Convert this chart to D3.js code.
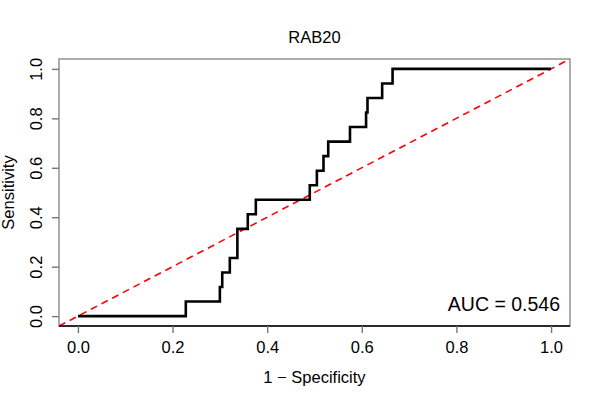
<!DOCTYPE html>
<html>
<head>
<meta charset="utf-8">
<script src="https://cdn.jsdelivr.net/npm/d3@7"></script>
<style>
  body { margin: 0; background: #fff; }
  text { font-family: "Liberation Sans", Arial, Helvetica, sans-serif; fill: #000; }
</style>
</head>
<body>
<div id="chart"></div>
<script>
// ROC curve points for RAB20 (17 positives)
var fpr = [0, 0.228, 0.228, 0.300, 0.300, 0.305, 0.305, 0.321, 0.321, 0.337, 0.337,
           0.359, 0.359, 0.376, 0.376, 0.490, 0.490, 0.505, 0.505, 0.519, 0.519,
           0.529, 0.529, 0.575, 0.575, 0.609, 0.609, 0.612, 0.612, 0.643, 0.643,
           0.665, 0.665, 1];
var tpr = [0, 0, 1, 1, 2, 2, 3, 3, 4, 4, 6,
           6, 7, 7, 8, 8, 9, 9, 10, 10, 11,
           11, 12, 12, 13, 13, 14, 14, 15, 15, 16,
           16, 17, 17].map(function (d) { return d / 17; });
var ticks = [0, 0.2, 0.4, 0.6, 0.8, 1.0];
var title = "RAB20";
var aucLabel = "AUC = 0.546";

var width = 600, height = 400;
var box = {left: 59, right: 570, top: 59, bottom: 326};
var fs = "16.5px";

var svg = d3.select("#chart").append("svg")
    .attr("width", width)
    .attr("height", height);

// R style axes: 4% padding on each side
var x = d3.scaleLinear().domain([-0.04, 1.04]).range([box.left, box.right]);
var y = d3.scaleLinear().domain([-0.04, 1.04]).range([box.bottom, box.top]);

// diagonal reference line, clipped to the plot box
svg.append("line")
    .attr("x1", x(-0.04)).attr("y1", y(-0.04))
    .attr("x2", x(1.04)).attr("y2", y(1.04))
    .attr("stroke", "#ff0000")
    .attr("stroke-width", 1.6)
    .attr("stroke-dasharray", "7,5");

var pts = fpr.map(function (d, i) { return [d, tpr[i]]; });
var line = d3.line()
    .x(function (d) { return x(d[0]); })
    .y(function (d) { return y(d[1]); });

svg.append("path")
    .datum(pts)
    .attr("d", line)
    .attr("fill", "none")
    .attr("stroke", "#000")
    .attr("stroke-width", 2.6)
    .attr("stroke-linejoin", "miter");

// box
svg.append("rect")
    .attr("x", box.left).attr("y", box.top)
    .attr("width", box.right - box.left)
    .attr("height", box.bottom - box.top)
    .attr("fill", "none")
    .attr("stroke", "#8a8a8a")
    .attr("stroke-width", 1.4);
svg.append("line")
    .attr("x1", box.left).attr("x2", box.right)
    .attr("y1", box.bottom).attr("y2", box.bottom)
    .attr("stroke", "#000")
    .attr("stroke-width", 1.4);

// axes
var xAxis = svg.append("g")
    .attr("transform", "translate(0," + box.bottom + ")")
    .call(d3.axisBottom(x).tickValues(ticks).tickFormat(d3.format(".1f")).tickSize(7).tickSizeOuter(0));
xAxis.select(".domain").remove();
xAxis.selectAll("line").attr("stroke", "#777").attr("stroke-width", 1.4);
xAxis.selectAll("text")
    .attr("y", 27).attr("dy", null)
    .style("font-size", fs)
    .style("font-family", "'Liberation Sans', Arial, sans-serif")
    .attr("fill", "#000");

var yAxis = svg.append("g")
    .attr("transform", "translate(" + box.left + ",0)")
    .call(d3.axisLeft(y).tickValues(ticks).tickFormat(d3.format(".1f")).tickSize(7).tickSizeOuter(0));
yAxis.select(".domain").remove();
yAxis.selectAll("line").attr("stroke", "#777").attr("stroke-width", 1.4);
yAxis.selectAll("text")
    .attr("x", null).attr("dy", null)
    .attr("text-anchor", "middle")
    .attr("transform", "translate(-17,0) rotate(-90)")
    .style("font-size", fs)
    .style("font-family", "'Liberation Sans', Arial, sans-serif")
    .attr("fill", "#000");

// titles
svg.append("text")
    .attr("x", (box.left + box.right) / 2).attr("y", 43)
    .attr("text-anchor", "middle")
    .style("font-size", fs)
    .text(title);

svg.append("text")
    .attr("x", (box.left + box.right) / 2).attr("y", 383)
    .attr("text-anchor", "middle")
    .style("font-size", fs)
    .text("1 \u2212 Specificity");

svg.append("text")
    .attr("transform", "translate(14," + ((box.top + box.bottom) / 2) + ") rotate(-90)")
    .attr("text-anchor", "middle")
    .style("font-size", fs)
    .text("Sensitivity");

svg.append("text")
    .attr("x", 560).attr("y", 311)
    .attr("text-anchor", "end")
    .style("font-size", "19.5px")
    .text(aucLabel);
</script>
</body>
</html>
